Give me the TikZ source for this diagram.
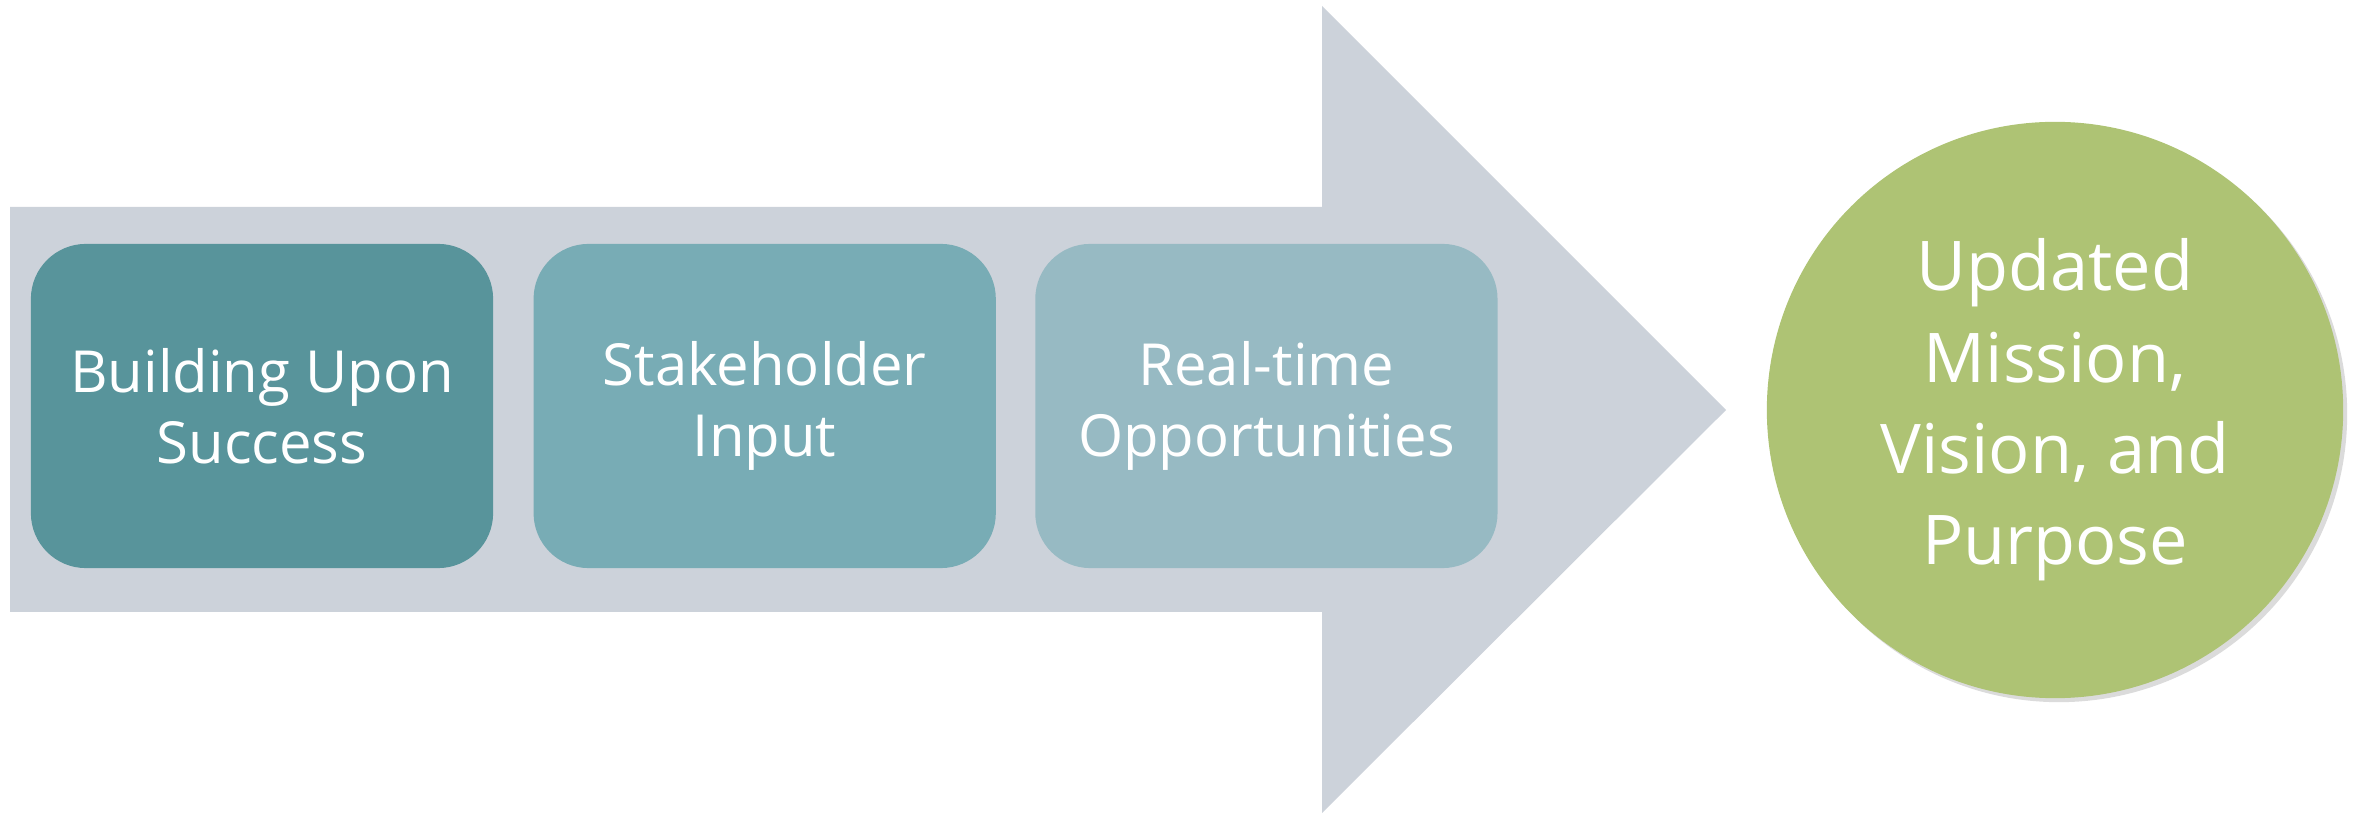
\documentclass[tikz,border=0pt]{standalone}
\usepackage{fontspec}
\setmainfont{Open Sans}
\usetikzlibrary{positioning}
\usetikzlibrary{shadows}

\definecolor{arrowgray}{RGB}{204,210,218}
\definecolor{stageone}{RGB}{88,148,155}
\definecolor{stagetwo}{RGB}{120,172,181}
\definecolor{stagethree}{RGB}{151,186,195}
\definecolor{goalgreen}{RGB}{174,195,116}

\tikzset{
  stagebox/.style={rounded corners=0.55cm, minimum width=4.62cm, minimum height=3.24cm,
    inner sep=0pt, text=white, align=center, font=\fontsize{16.5}{20.2}\selectfont},
  goal/.style={circle, fill=goalgreen, minimum size=5.76cm, inner sep=0pt, text=white,
    align=center, font=\fontsize{19.5}{26}\selectfont,
    drop shadow={shadow xshift=0.04cm, shadow yshift=-0.04cm, fill=black, opacity=0.14}}
}

\begin{document}
\begin{tikzpicture}[line cap=round,line join=round,x=0.01cm,y=-0.01cm]
\useasboundingbox (0,0) rectangle (2361,813);
% big block arrow behind the stages
\fill [color=arrowgray] (10,207) -- (1322,207) -- (1322,6) -- (1726,410)
  -- (1322,813) -- (1322,612) -- (10,612) -- cycle;
% the three stages
\node [stagebox, fill=stageone] (building) at (262,406) {Building Upon\\Success};
\node [stagebox, fill=stagetwo, right=0.39cm of building] (stakeholder) {Stakeholder\\Input};
\node [stagebox, fill=stagethree, right=0.38cm of stakeholder] (realtime) {Real-time\\Opportunities};
% outcome
\node [goal] (updated) at (2055,410) {Updated\\Mission,\\Vision, and\\Purpose};
\end{tikzpicture}
\end{document}
